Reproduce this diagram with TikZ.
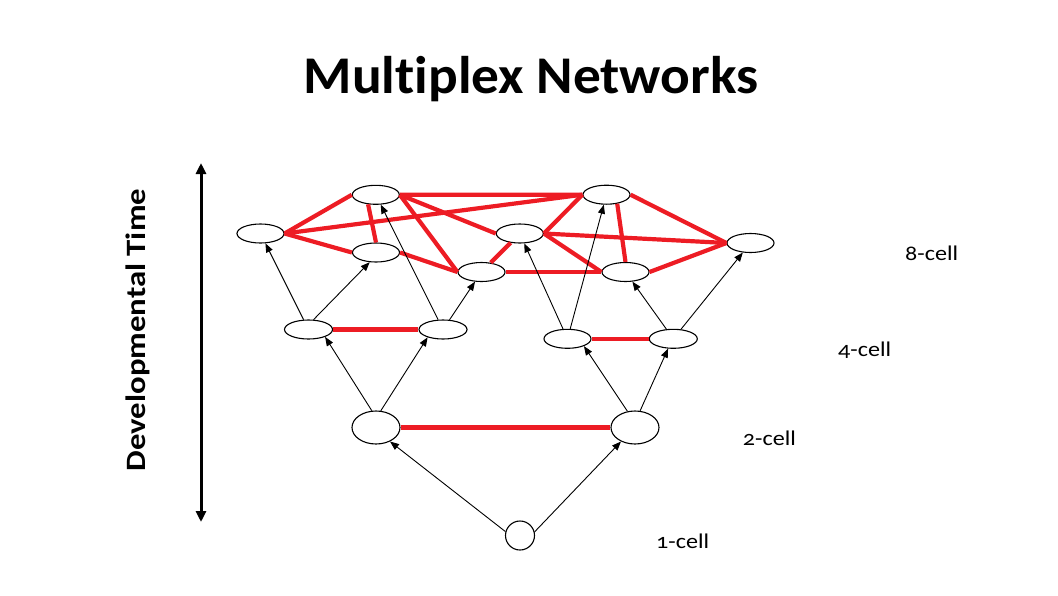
\documentclass[tikz,border=0pt]{standalone}
\usepackage{fontspec}
\setmainfont{Carlito}[Ligatures=NoCommon]
\newfontfamily\labelfont{Carlito}[Numbers=OldStyle, FakeStretch=1.15, Ligatures=NoCommon]
\newfontfamily\titlefont{Carlito Bold}[FakeStretch=1.045, Ligatures=NoCommon]
\newfontfamily\axisfont{Carlito Bold}[FakeStretch=1.17, Ligatures=NoCommon]
\usetikzlibrary{arrows.meta,shapes.geometric}
\definecolor{netred}{RGB}{237,28,36}
\begin{document}
\begin{tikzpicture}[x=1pt,y=-1pt,
  cellnode/.style={draw=black, line width=1.1pt, ellipse, minimum width=47pt, minimum height=19pt, inner sep=0pt},
  bigcell/.style={cellnode, minimum width=48pt, minimum height=33pt},
  redlink/.style={draw=netred, line width=4.2pt},
  lineagearrow/.style={draw=black, line width=0.9pt, -{Triangle[length=9pt,width=7pt]}},
  timeaxis/.style={draw=black, line width=3pt, {Triangle[length=11pt,width=10pt]}-{Triangle[length=11pt,width=10pt]}},
  stagelabel/.style={anchor=base west, inner sep=0pt, font=\labelfont\fontsize{21}{24}\selectfont}
]
\useasboundingbox (0,0) rectangle (1058,595);

% title
\node[anchor=base, inner sep=0pt, font=\titlefont\fontsize{53}{60}\selectfont] (title) at (531,93.3) {Multiplex Networks};

% time axis
\coordinate (tTop) at (201,163);
\coordinate (tBot) at (201,522);
\draw[timeaxis] (tBot) -- (tTop);
\node[rotate=90, inner sep=0pt, font=\axisfont\fontsize{28}{30}\selectfont] (dtime) at (137.5,330) {Developmental Time};

% 8-cell
\node[cellnode] (A) at (260.5,233.5) {};
\node[cellnode] (B) at (375.8,194.8) {};
\node[cellnode] (C) at (376,252.5) {};
\node[cellnode] (D) at (481.5,272) {};
\node[cellnode] (E) at (519.8,233.5) {};
\node[cellnode] (F) at (606.5,194.7) {};
\node[cellnode] (G) at (625.5,272) {};
\node[cellnode] (H) at (750.5,243) {};
% 4-cell
\node[cellnode, minimum width=48pt] (P) at (308.5,329.5) {};
\node[cellnode, minimum width=48pt] (Q) at (443,329.5) {};
\node[cellnode] (R) at (567.5,338.8) {};
\node[cellnode, minimum width=48pt] (S) at (673.3,338.8) {};
% 2-cell
\node[bigcell] (L2) at (376,427.5) {};
\node[bigcell] (R2) at (635,427.5) {};
% 1-cell
\node[draw=black, line width=1.1pt, circle, minimum size=29pt, inner sep=0pt] (one) at (520,535.5) {};

% red links
\draw[redlink] (A.east) -- (B.west);
\draw[redlink] (A.east) -- (F.west);
\draw[redlink] (A.east) -- (C.west);
\draw[redlink] (B.231) -- (C.north);
\draw[redlink] (B.east) -- (F.west);
\draw[redlink] (B.east) -- (E.west);
\draw[redlink] (B.east) -- (D.west);
\draw[redlink] (C.east) -- (D.west);
\draw[redlink] (D) -- (E);
\draw[redlink] (D.east) -- (G.west);
\draw[redlink] (E.east) -- (F.west);
\draw[redlink] (E.east) -- (H.west);
\draw[redlink] (E.east) -- (G.west);
\draw[redlink] (F.320) -- (G.north);
\draw[redlink] (F.east) -- (H.west);
\draw[redlink] (G.east) -- (H.west);
\draw[redlink] (P.east) -- (Q.west);
\draw[redlink] (R.east) -- (S.west);
\draw[redlink] (L2.east) -- (R2.west);

% lineage arrows
\draw[lineagearrow] (P) -- (A);
\draw[lineagearrow] (P.63) -- (C.237);
\draw[lineagearrow] (Q) -- (B);
\draw[lineagearrow] (Q) -- (D);
\draw[lineagearrow] (R) -- (E);
\draw[lineagearrow] (R) -- (F);
\draw[lineagearrow] (S) -- (G);
\draw[lineagearrow] (S) -- (H);
\draw[lineagearrow] (L2.104) -- (P.336);
\draw[lineagearrow] (L2.74) -- (Q.207);
\draw[lineagearrow] (R2.115) -- (R.336);
\draw[lineagearrow] (R2.73) -- (S.242);
\draw[lineagearrow] (one.165) -- (L2.315);
\draw[lineagearrow] (one.14) -- (R2.225);

% stage labels
\node[stagelabel] (l8) at (905,260) {8-cell};
\node[stagelabel] (l4) at (838,356.7) {4-cell};
\node[stagelabel] (l2) at (742.7,445) {2-cell};
\node[stagelabel] (l1) at (656,548.3) {1-cell};
\end{tikzpicture}
\end{document}
